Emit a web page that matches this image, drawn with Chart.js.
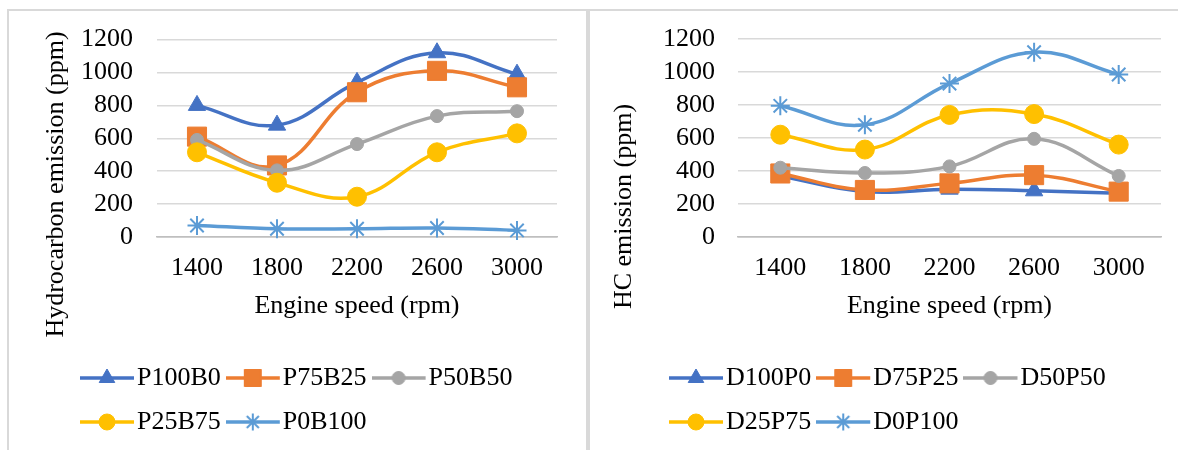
<!DOCTYPE html>
<html>
<head>
<meta charset="utf-8">
<script src="https://cdn.jsdelivr.net/npm/chart.js@4/dist/chart.umd.min.js"></script>
<style>
  html, body { margin: 0; padding: 0; background: #fff; width: 1178px; height: 450px; overflow: hidden; }
  .panel { position: absolute; top: 9px; height: 470px; border: 2px solid #d9d9d9; box-sizing: border-box; }
  #p1 { left: 7px; width: 581px; }
  #p2 { left: 588px; width: 620px; }
  canvas { position: absolute; top: 0; }
  #c1 { left: 0; width: 588px; height: 450px; }
  #c2 { left: 588px; width: 590px; height: 450px; }
</style>
</head>
<body>
<div class="panel" id="p1"></div>
<div class="panel" id="p2"></div>
<canvas id="c1" width="588" height="450"></canvas>
<canvas id="c2" width="590" height="450"></canvas>
<script>
// Engine speeds (rpm) on the x axis
const speeds = ['1400', '1800', '2200', '2600', '3000'];
// HC axis ticks (ppm)
const hcTicks = [0, 200, 400, 600, 800, 1000, 1200];

// Hydrocarbon emission (ppm), petrol/bio blends
const blendNamesP = ['P100B0', 'P75B25', 'P50B50', 'P25B75', 'P0B100'];
const p100b0 = [800, 680, 940, 1120, 990];
const p75b25 = [610, 435, 880, 1010, 910];
const p50b50 = [590, 405, 565, 735, 765];
const p25b75 = [515, 330, 245, 515, 630];
const p0b100 = [70, 50, 50, 55, 40];

// HC emission (ppm), diesel/petrol blends
const blendNamesD = ['D100P0', 'D75P25', 'D50P50', 'D25P75', 'D0P100'];
const d100p0 = [370, 275, 290, 280, 265];
const d75p25 = [385, 285, 325, 375, 275];
const d50p50 = [420, 388, 428, 595, 370];
const d25p75 = [620, 530, 740, 745, 560];
const d0p100 = [795, 680, 930, 1120, 985];

// Series styling
const COLORS = ['#4472C4', '#ED7D31', '#A5A5A5', '#FFC000', '#5B9BD5'];
const MARKERS = ['triangle', 'rect', 'circle', 'circle', 'star'];
const RADII = [10, 13.5, 6.5, 9.5, 9.5];
const BORDERS = [1, 1, 1, 1, 2];
const LEGEND_RADII = [9, 12, 6.5, 8, 8.5];
const FONT_FAMILY = '"Liberation Serif", "Times New Roman", serif';
const FONT = { family: FONT_FAMILY, size: 26 };

Chart.defaults.font.family = FONT_FAMILY;

function drawMarker(g, style, r, bw, x, y) {
  if (Chart.helpers && Chart.helpers.drawPoint) {
    Chart.helpers.drawPoint(g, { pointStyle: style, radius: r, borderWidth: bw, rotation: 0 }, x, y);
    return;
  }
  g.beginPath();
  if (style === 'triangle') {
    for (let k = 0; k < 3; k++) {
      const a = k * 2 * Math.PI / 3;
      const px = x + Math.sin(a) * r, py = y - Math.cos(a) * r;
      k ? g.lineTo(px, py) : g.moveTo(px, py);
    }
    g.closePath(); g.fill(); g.stroke();
  } else if (style === 'rect') {
    const s = r * Math.SQRT1_2;
    g.rect(x - s, y - s, 2 * s, 2 * s); g.fill(); g.stroke();
  } else if (style === 'circle') {
    g.arc(x, y, r, 0, Math.PI * 2); g.fill(); g.stroke();
  } else {
    const d = r * Math.SQRT1_2;
    g.moveTo(x, y - r); g.lineTo(x, y + r);
    g.moveTo(x - r, y); g.lineTo(x + r, y);
    g.moveTo(x - d, y - d); g.lineTo(x + d, y + d);
    g.moveTo(x - d, y + d); g.lineTo(x + d, y - d);
    g.stroke();
  }
}

// Legend key: short line segment with the series marker in its middle
function legendSymbol(i) {
  const c = document.createElement('canvas');
  c.width = 57; c.height = 26;
  const g = c.getContext('2d');
  g.strokeStyle = COLORS[i];
  g.lineWidth = 3.5;
  g.beginPath(); g.moveTo(0, 13); g.lineTo(54, 13); g.stroke();
  g.fillStyle = COLORS[i];
  g.lineWidth = BORDERS[i];
  drawMarker(g, MARKERS[i], LEGEND_RADII[i], BORDERS[i], 27, 13);
  return c;
}
const SYMBOLS = COLORS.map((_, i) => legendSymbol(i));

function makeDatasets(names, series) {
  return names.map((name, i) => ({
    label: name,
    data: series[i],
    borderColor: COLORS[i],
    backgroundColor: COLORS[i],
    pointBackgroundColor: COLORS[i],
    pointBorderColor: COLORS[i],
    pointStyle: MARKERS[i],
    pointRadius: RADII[i],
    pointHoverRadius: RADII[i],
    pointBorderWidth: BORDERS[i],
    borderWidth: 3.5,
    tension: 0.4,
    fill: false,
    clip: false,
    order: names.length - i
  }));
}

// Places the legend block and draws the rotated value-axis title
const layoutTweaks = {
  id: 'layoutTweaks',
  afterLayout(chart, args, o) {
    if (chart.legend) chart.legend.left = o.legendLeft;
  },
  beforeDraw(chart, args, o) {
    if (chart.legend) chart.legend.left = o.legendLeft;
  },
  afterDraw(chart, args, o) {
    const ctx = chart.ctx;
    ctx.save();
    ctx.translate(o.titleX, o.titleY);
    ctx.rotate(-Math.PI / 2);
    ctx.font = FONT.size + 'px ' + FONT_FAMILY;
    ctx.fillStyle = '#000';
    ctx.textAlign = 'center';
    ctx.textBaseline = 'alphabetic';
    ctx.fillText(o.title, 0, 0);
    ctx.restore();
  }
};

function buildChart(canvasId, names, series, cfg) {
  return new Chart(document.getElementById(canvasId), {
    type: 'line',
    data: { labels: speeds, datasets: makeDatasets(names, series) },
    plugins: [layoutTweaks],
    options: {
      responsive: false,
      animation: false,
      devicePixelRatio: 1,
      layout: { padding: { top: 39, left: 0, right: cfg.padRight, bottom: 5 } },
      scales: {
        x: {
          type: 'category',
          offset: true,
          grid: { display: false, drawTicks: false },
          border: { display: true, color: '#bfbfbf', width: 1.5 },
          ticks: { padding: 16, color: '#000', font: FONT, maxRotation: 0, autoSkip: false },
          title: { display: true, text: 'Engine speed (rpm)', color: '#000', font: FONT, padding: { top: 0, bottom: 25 } },
          afterFit(s) { s.height = 110; }
        },
        y: {
          min: hcTicks[0],
          max: hcTicks[hcTicks.length - 1],
          afterBuildTicks(s) { s.ticks = hcTicks.map(v => ({ value: v })); },
          grid: {
            drawTicks: false,
            lineWidth: 1.5,
            color: c => (c.tick && c.tick.value === 0) ? '#bfbfbf' : '#d9d9d9'
          },
          border: { display: false },
          ticks: {
            padding: cfg.tickPad,
            color: '#000',
            font: FONT,
            autoSkip: false,
            callback: v => String(v)
          },
          afterFit(s) { s.width = cfg.axisWidth; }
        }
      },
      plugins: {
        tooltip: { enabled: false },
        legend: {
          position: 'bottom',
          align: 'start',
          labels: {
            usePointStyle: true,
            pointStyleWidth: 31,
            boxHeight: 26,
            padding: 18,
            color: '#000',
            font: FONT,
            sort: (a, b) => a.datasetIndex - b.datasetIndex,
            generateLabels(chart) {
              const items = Chart.defaults.plugins.legend.labels.generateLabels(chart);
              items.forEach(it => { it.pointStyle = SYMBOLS[it.datasetIndex]; });
              return items;
            }
          }
        },
        layoutTweaks: {
          legendLeft: cfg.legendLeft,
          title: cfg.title,
          titleX: cfg.titleX,
          titleY: cfg.titleY
        }
      }
    }
  });
}

buildChart('c1', blendNamesP, [p100b0, p75b25, p50b50, p25b75, p0b100], {
  padRight: 31, axisWidth: 157, tickPad: 24, legendLeft: 75,
  title: 'Hydrocarbon emission (ppm)', titleX: 63, titleY: 184.5
});

buildChart('c2', blendNamesD, [d100p0, d75p25, d50p50, d25p75, d0p100], {
  padRight: 17, axisWidth: 150, tickPad: 23, legendLeft: 76,
  title: 'HC emission (ppm)', titleX: 43, titleY: 206.5
});
</script>
</body>
</html>
